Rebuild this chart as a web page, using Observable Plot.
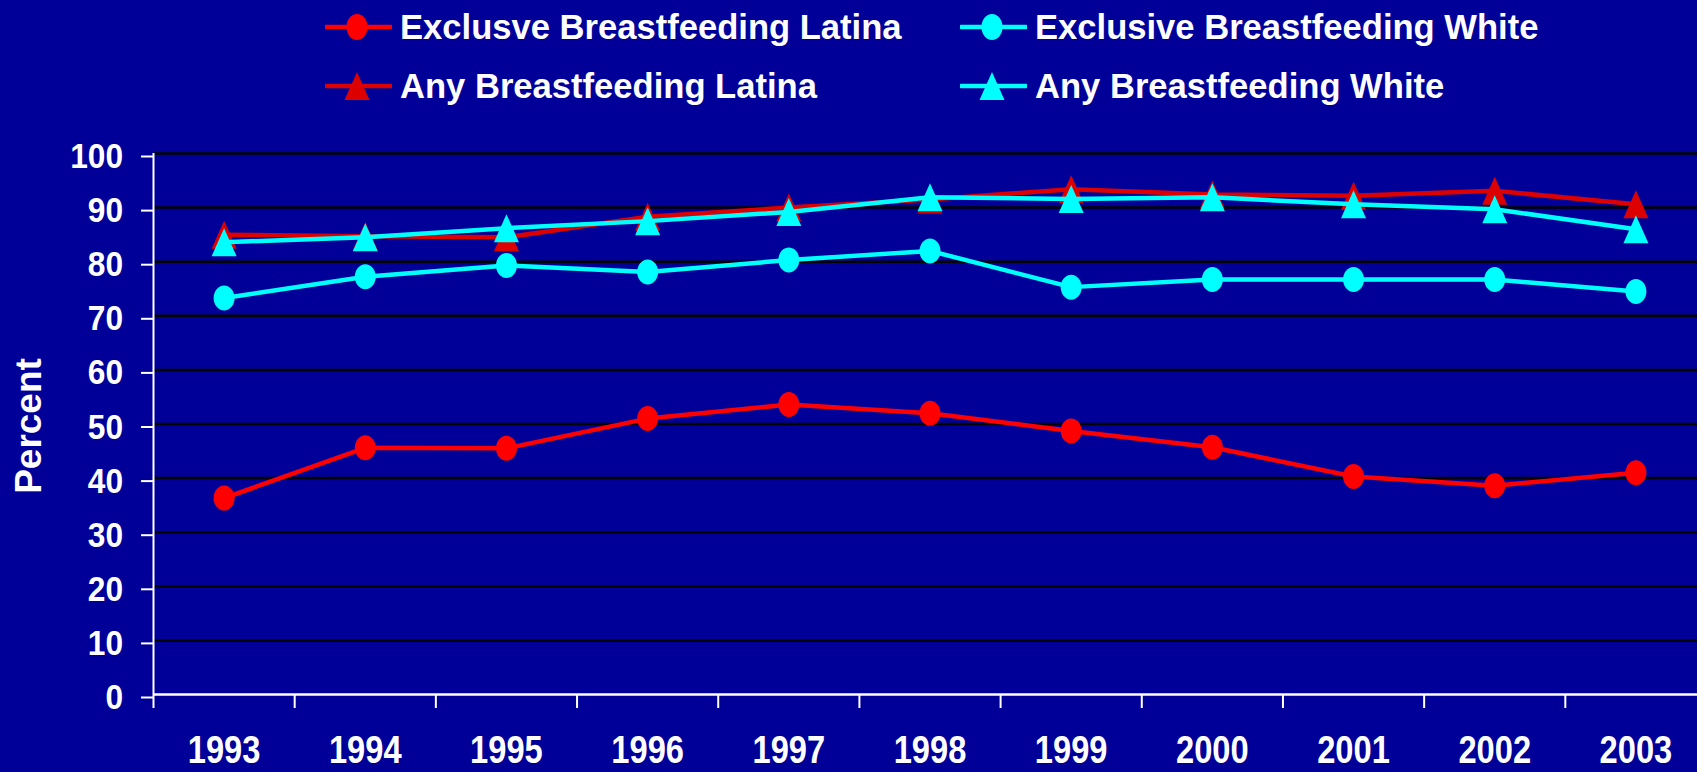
<!DOCTYPE html>
<html>
<head>
<meta charset="utf-8">
<script src="https://cdn.jsdelivr.net/npm/d3@7"></script>
<script src="https://cdn.jsdelivr.net/npm/@observablehq/plot@0.6"></script>
<style>
  html, body { margin: 0; padding: 0; background: #000099; overflow: hidden; }
  body { width: 1697px; height: 772px; font-family: "Liberation Sans", Arial, sans-serif; }
  #legend { position: relative; height: 120px; width: 1697px; }
  .item { position: absolute; display: flex; align-items: center; height: 40px; }
  .item span { color: white; font-weight: bold; font-size: 34.6px; margin-left: 8px; white-space: nowrap; }
  .item svg { display: block; }
</style>
</head>
<body>
<div id="legend"></div>
<div id="chart"></div>
<script>
// ---- data ----
const years = [1993, 1994, 1995, 1996, 1997, 1998, 1999, 2000, 2001, 2002, 2003];
const exclusiveLatina = [36.3, 45.6, 45.5, 51.0, 53.6, 52.0, 48.7, 45.7, 40.3, 38.6, 41.0];
const exclusiveWhite  = [73.3, 77.2, 79.3, 78.1, 80.3, 82.0, 75.3, 76.7, 76.7, 76.7, 74.5];
const anyLatina       = [85.0, 84.7, 84.5, 88.3, 90.0, 91.5, 93.4, 92.4, 92.2, 93.1, 90.6];
const anyWhite        = [83.6, 84.5, 86.2, 87.5, 89.2, 91.9, 91.6, 91.9, 90.6, 89.7, 86.0];
const seriesNames = ["Exclusve Breastfeeding Latina", "Exclusive Breastfeeding White", "Any Breastfeeding Latina", "Any Breastfeeding White"];
const yTicks = [0, 10, 20, 30, 40, 50, 60, 70, 80, 90, 100];
const yLabel = "Percent";

// ---- styles ----
const colors = ["#FF0000", "#00FFFF", "#DD0000", "#00FFFF"];
const shapes = ["ellipse", "ellipse", "triangle", "triangle"];
const values = [exclusiveLatina, exclusiveWhite, anyLatina, anyWhite];

const ellipseSymbol = {
  draw(ctx) {
    const rx = 10.5, ry = 12.5, k = 0.5523;
    ctx.moveTo(rx, 0);
    ctx.bezierCurveTo(rx, ry * k, rx * k, ry, 0, ry);
    ctx.bezierCurveTo(-rx * k, ry, -rx, ry * k, -rx, 0);
    ctx.bezierCurveTo(-rx, -ry * k, -rx * k, -ry, 0, -ry);
    ctx.bezierCurveTo(rx * k, -ry, rx, -ry * k, rx, 0);
    ctx.closePath();
  }
};
const triangleSymbol = {
  draw(ctx) {
    ctx.moveTo(0, -14);
    ctx.lineTo(12.5, 14);
    ctx.lineTo(-12.5, 14);
    ctx.closePath();
  }
};

// ---- legend ----
const legendPos = [
  {left: 325, top: 7}, {left: 960, top: 7},
  {left: 325, top: 66}, {left: 960, top: 66}
];
const legend = document.getElementById("legend");
seriesNames.forEach((name, i) => {
  const div = document.createElement("div");
  div.className = "item";
  div.style.left = legendPos[i].left + "px";
  div.style.top = legendPos[i].top + "px";
  const marker = shapes[i] === "ellipse"
    ? `<ellipse cx="32" cy="20" rx="10.5" ry="13" fill="${colors[i]}"/>`
    : `<polygon points="32,6 44.5,34 19.5,34" fill="${colors[i]}"/>`;
  div.innerHTML = `<svg width="67" height="40"><line x1="1" y1="20" x2="66" y2="20" stroke="${colors[i]}" stroke-width="4.5" stroke-linecap="round"/>${marker}</svg><span>${name}</span>`;
  legend.appendChild(div);
});

// ---- chart ----
const tables = values.map((vals, i) => years.map((year, j) => ({year, value: vals[j], series: seriesNames[i]})));
const boundaries = years.map(y => y - 0.5);

const seriesMarks = [];
tables.forEach((t, i) => {
  seriesMarks.push(Plot.line(t, {x: "year", y: "value", stroke: colors[i], strokeWidth: 4.5}));
  seriesMarks.push(Plot.dot(t, {x: "year", y: "value", fill: colors[i], symbol: shapes[i] === "ellipse" ? ellipseSymbol : triangleSymbol}));
});

const chart = Plot.plot({
  width: 1697,
  height: 652,
  marginTop: 33,
  marginBottom: 78,
  marginLeft: 153,
  marginRight: 0,
  style: {background: "#000099", color: "white", fontFamily: "'Liberation Sans', Arial, sans-serif"},
  x: {type: "linear", domain: [1992.5, 2003.5], range: [153, 1706], label: null},
  y: {domain: [0, 100], label: null},
  marks: [
    Plot.ruleY(yTicks.filter(d => d > 0), {stroke: "black", strokeWidth: 2.5}),
    Plot.ruleY([0], {stroke: "white", strokeWidth: 2.5}),
    Plot.ruleX([1992.5], {stroke: "white", strokeWidth: 2}),
    Plot.axisY(yTicks, {tickSize: 12, tickPadding: 18.5, stroke: "white", strokeWidth: 2, fill: "white", fontSize: 36, fontWeight: "bold", dy: 3, label: null}),
    Plot.axisX(boundaries, {tickSize: 14, stroke: "white", strokeWidth: 2, fill: "none", label: null}),
    Plot.axisX(years, {tickSize: 0, tickPadding: 42, fill: "white", fontSize: 38, fontWeight: "bold", tickFormat: d => String(d), label: null}),
    Plot.text([yLabel], {frameAnchor: "left", textAnchor: "middle", rotate: -90, dx: -124, dy: 2, fill: "white", fontSize: 37, fontWeight: "bold"}),
    ...seriesMarks
  ]
});
document.getElementById("chart").appendChild(chart);

// slight horizontal condensing of tick labels, as in the original
function condense(selector, sx) {
  d3.select(chart).selectAll(selector).each(function() {
    const t = this.getAttribute("transform");
    if (t) this.setAttribute("transform", t + ` scale(${sx},1)`);
  });
}
condense('g[aria-label="x-axis tick label"] text', 0.86);
condense('g[aria-label="y-axis tick label"] text', 0.88);
</script>
</body>
</html>
